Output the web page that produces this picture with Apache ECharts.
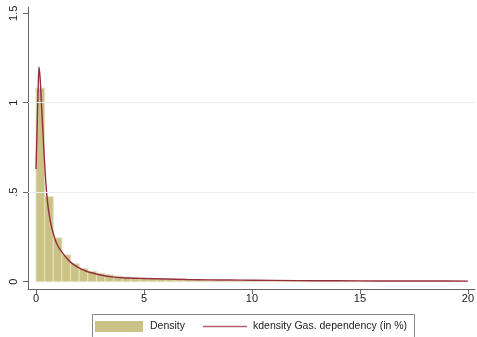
<!DOCTYPE html>
<html><head><meta charset="utf-8">
<script src="https://cdn.jsdelivr.net/npm/echarts@6/dist/echarts.min.js"></script>
<style>html,body{margin:0;padding:0;background:#fff}#c{width:477px;height:337px}</style>
</head><body><div id="c"></div>
<script>
// Histogram: bins of width 0.4 from 0 to 20
const binStart = 0;
const binWidth = 0.4;
const densityBins = [1.082,0.475,0.245,0.150,0.100,0.075,0.058,0.047,0.038,0.031,
  0.026,0.022,0.019,0.017,0.015,0.013,0.012,0.011,0.010,0.009,
  0.008,0.007,0.007,0.006,0.006,0.005,0.005,0.005,0.004,0.004,
  0.004,0.004,0.003,0.003,0.003,0.003,0.003,0.003,0.002,0.002,
  0.002,0.002,0.002,0.002,0.002,0.002,0.002,0.002,0.002,0.002];
// Kernel density curve
const kdeX = [0,0.05,0.1,0.14,0.19,0.25,0.31,0.42,0.52,0.65,0.8,0.95,1.2,1.57,1.95,2.34,3.0,3.5,4.0,5.0,6.0,7.0,8.0,9.0,10,12,14,16,18,20];
const kdeY = [0.63,0.85,1.08,1.2,1.14,1.0,0.86,0.62,0.46,0.345,0.27,0.215,0.165,0.112,0.08,0.058,0.037,0.027,0.022,0.018,0.015,0.012,0.010,0.009,0.008,0.006,0.005,0.004,0.004,0.003];
const xTicks = [0,5,10,15,20];
const yTicks = [0,0.5,1,1.5];
const yTickLabels = ['0','.5','1','1.5'];
const gridYs = [0.5,1];
const seriesNames = ['Density','kdensity Gas. dependency (in %)'];

const histData = densityBins.map((v,i)=>[binStart+i*binWidth, binStart+(i+1)*binWidth, v]);
const kdeData = kdeX.map((x,i)=>[x,kdeY[i]]);

const chart = echarts.init(document.getElementById('c'));
const font = 'Liberation Sans, Arial, sans-serif';
chart.setOption({
  animation:false,
  backgroundColor:'#fff',
  grid:{left:28,right:1,top:7,bottom:48},
  xAxis:{type:'value',min:-0.37,max:20.33,
    axisLine:{show:true,onZero:false,lineStyle:{color:'#666',width:1}},
    axisTick:{show:true,length:5,customValues:xTicks,lineStyle:{color:'#666'}},
    axisLabel:{customValues:xTicks,color:'#222',fontSize:11,fontFamily:font,margin:4},
    splitLine:{show:false}},
  yAxis:{type:'value',min:-0.041,max:1.535,
    axisLine:{show:true,onZero:false,lineStyle:{color:'#666',width:1}},
    axisTick:{show:true,length:5,customValues:yTicks,lineStyle:{color:'#666'}},
    axisLabel:{customValues:yTicks,rotate:90,align:'center',verticalAlign:'bottom',color:'#222',fontSize:11,fontFamily:font,margin:9,
      formatter:(v)=>{const i=yTicks.findIndex(t=>Math.abs(t-v)<1e-9);return i>=0?yTickLabels[i]:'';}},
    splitLine:{show:false}},
  legend:[
    {data:[{name:seriesNames[0],icon:'rect'}],left:95,top:321,itemWidth:48,itemHeight:11,itemGap:0,padding:0,
      textStyle:{fontSize:10.5,fontFamily:font,color:'#222',padding:[0,0,0,2]}},
    {data:[{name:seriesNames[1],icon:'rect',itemStyle:{color:'#b5606c'}}],left:203,top:321,itemWidth:44,itemHeight:1.6,padding:0,
      textStyle:{fontSize:10.5,fontFamily:font,color:'#222',padding:[0,0,0,1]}}
  ],
  graphic:[{type:'rect',shape:{x:92.5,y:314.5,width:322,height:30},style:{fill:'none',stroke:'#888',lineWidth:1},z:-1}],
  series:[
    {type:'line',name:'grid',data:[],silent:true,z:0,
      markLine:{silent:true,symbol:'none',label:{show:false},lineStyle:{color:'#e8eff2',type:'solid',width:1},
        data:gridYs.map(v=>({yAxis:v}))}},
    {type:'custom',name:seriesNames[0],z:2,
      itemStyle:{color:'#cbc386'},
      data:histData,
      encode:{x:[0,1],y:2},
      renderItem:(params,api)=>{
        const p0=api.coord([api.value(0),api.value(2)]);
        const p1=api.coord([api.value(1),0]);
        return {type:'rect',shape:{x:p0[0],y:p0[1],width:p1[0]-p0[0],height:p1[1]-p0[1]},
          style:{fill:'#cbc386',stroke:'#e6e2c2',lineWidth:1}};
      }},
    {type:'line',name:seriesNames[1],data:kdeData,smooth:0.3,symbol:'none',z:3,
      lineStyle:{color:'#962e40',width:1.4},itemStyle:{color:'#962e40'}}
  ]
});
</script></body></html>
